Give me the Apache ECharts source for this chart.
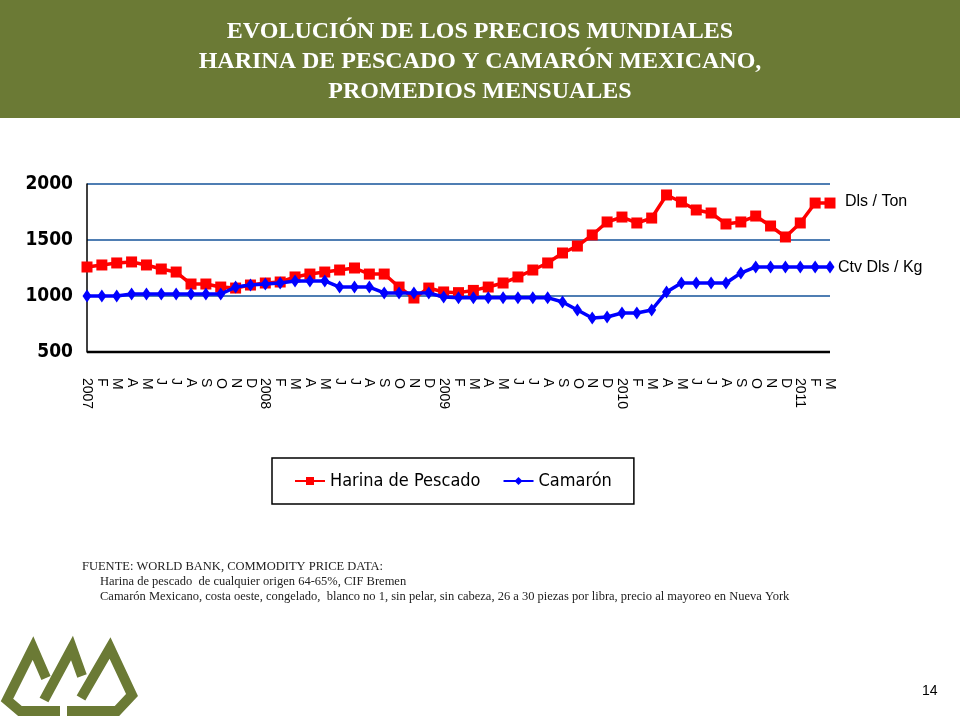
<!DOCTYPE html>
<html>
<head>
<meta charset="utf-8">
<script src="https://cdn.jsdelivr.net/npm/echarts@6/dist/echarts.min.js"></script>
<style>
  body { margin: 0; }
  #main { width: 960px; height: 720px; }
</style>
</head>
<body>
<div id="main"></div>
<script>
  var months = ['2007','F','M','A','M','J','J','A','S','O','N','D',
                '2008','F','M','A','M','J','J','A','S','O','N','D',
                '2009','F','M','A','M','J','J','A','S','O','N','D',
                '2010','F','M','A','M','J','J','A','S','O','N','D',
                '2011','F','M'];
  var harina = [1259,1277,1295,1304,1277,1241,1214,1107,1107,1080,1071,1098,
                1116,1125,1170,1196,1214,1232,1250,1196,1196,1080,982,1071,
                1036,1030,1050,1080,1116,1170,1232,1295,1384,1446,1545,1661,
                1705,1652,1696,1902,1839,1768,1741,1643,1661,1714,1625,1527,
                1652,1830,1830];
  var camaron = [1000,1000,1000,1018,1018,1018,1018,1018,1018,1018,1080,1098,
                 1107,1116,1134,1134,1134,1080,1080,1080,1027,1027,1027,1027,
                 991,985,985,985,985,985,985,985,946,875,804,812,
                 848,848,875,1036,1116,1116,1116,1116,1205,1259,1259,1259,
                 1259,1259,1259];
  var yTicks = [500, 1000, 1500, 2000];

  var green = '#6b7a35';
  var logoStyle = { stroke: green, lineWidth: 10, fill: null, lineJoin: 'miter' };
  var myChart = echarts.init(document.getElementById('main'));
  var option = {
    backgroundColor: '#fff',
    animation: false,
    title: {
      text: 'EVOLUCIÓN DE LOS PRECIOS MUNDIALES\nHARINA DE PESCADO Y CAMARÓN MEXICANO,\nPROMEDIOS MENSUALES',
      left: 'center',
      top: 12,
      textStyle: {
        color: '#fff', fontFamily: 'Liberation Serif', fontWeight: 'bold',
        fontSize: 24, lineHeight: 30
      }
    },
    legend: {
      orient: 'horizontal',
      left: 272, top: 458,
      padding: [14, 22, 14, 22],
      itemGap: 22,
      borderColor: '#000', borderWidth: 1.5,
      itemWidth: 30, itemHeight: 10,
      textStyle: { fontFamily: 'DejaVu Sans Condensed', fontSize: 18, color: '#000' },
      data: ['Harina de Pescado', 'Camarón']
    },
    grid: { left: 87, right: 130, top: 184, bottom: 368 },
    xAxis: {
      type: 'category',
      data: months,
      boundaryGap: false,
      axisLine: { show: false },
      axisTick: { show: false },
      axisLabel: {
        rotate: -90, interval: 0, margin: 26,
        fontFamily: 'Liberation Sans', fontSize: 14, color: '#000'
      }
    },
    yAxis: {
      type: 'value',
      min: yTicks[0], max: yTicks[yTicks.length - 1], interval: 500,
      axisLine: { show: true, lineStyle: { color: '#000', width: 1.5 } },
      axisTick: { show: false },
      splitLine: { lineStyle: { color: '#4f7eb3', width: 2 } },
      axisLabel: {
        margin: 14,
        formatter: function (v) { return String(v); },
        fontFamily: 'DejaVu Sans Condensed', fontWeight: 'bold', fontSize: 19, color: '#000'
      }
    },
    series: [{
      name: 'Harina de Pescado',
      type: 'line',
      data: harina,
      color: '#ff0000',
      symbol: 'rect', symbolSize: 11,
      lineStyle: { width: 3.5 },
      z: 3
    }, {
      name: 'Camarón',
      type: 'line',
      data: camaron,
      color: '#0000ff',
      symbol: 'diamond', symbolSize: [9, 13],
      lineStyle: { width: 3.5 },
      z: 4
    }],
    graphic: [
      { type: 'rect', shape: { x: 0, y: 0, width: 960, height: 118 }, style: { fill: green }, z: -1 },
      { type: 'line', shape: { x1: 87, y1: 352, x2: 830, y2: 352 }, style: { stroke: '#000', lineWidth: 2.5 }, z: 5 },
      { type: 'text', left: 845, top: 194, style: { text: 'Dls / Ton', font: '16px Liberation Sans', fill: '#000' } },
      { type: 'text', left: 838, top: 260, style: { text: 'Ctv Dls / Kg', font: '16px Liberation Sans', fill: '#000' } },
      { type: 'text', left: 82, top: 560, style: { text: 'FUENTE: WORLD BANK, COMMODITY PRICE DATA:', font: '12.5px Liberation Serif', fill: '#222' } },
      { type: 'text', left: 100, top: 575, style: { text: 'Harina de pescado  de cualquier origen 64-65%, CIF Bremen', font: '12.5px Liberation Serif', fill: '#222' } },
      { type: 'text', left: 100, top: 590, style: { text: 'Camarón Mexicano, costa oeste, congelado,  blanco no 1, sin pelar, sin cabeza, 26 a 30 piezas por libra, precio al mayoreo en Nueva York', font: '12.5px Liberation Serif', fill: '#222' } },
      { type: 'text', left: 922, top: 684, style: { text: '14', font: '14px Liberation Sans', fill: '#000' } },
      { type: 'polyline', shape: { points: [[46, 678], [33, 648], [7, 700], [20, 711], [60, 711]] }, style: logoStyle },
      { type: 'polyline', shape: { points: [[44, 700], [72, 648], [82, 676]] }, style: logoStyle },
      { type: 'polyline', shape: { points: [[81, 698], [110, 648], [132, 695], [117, 711], [67, 711]] }, style: logoStyle }
    ]
  };
  myChart.setOption(option);
</script>
</body>
</html>
